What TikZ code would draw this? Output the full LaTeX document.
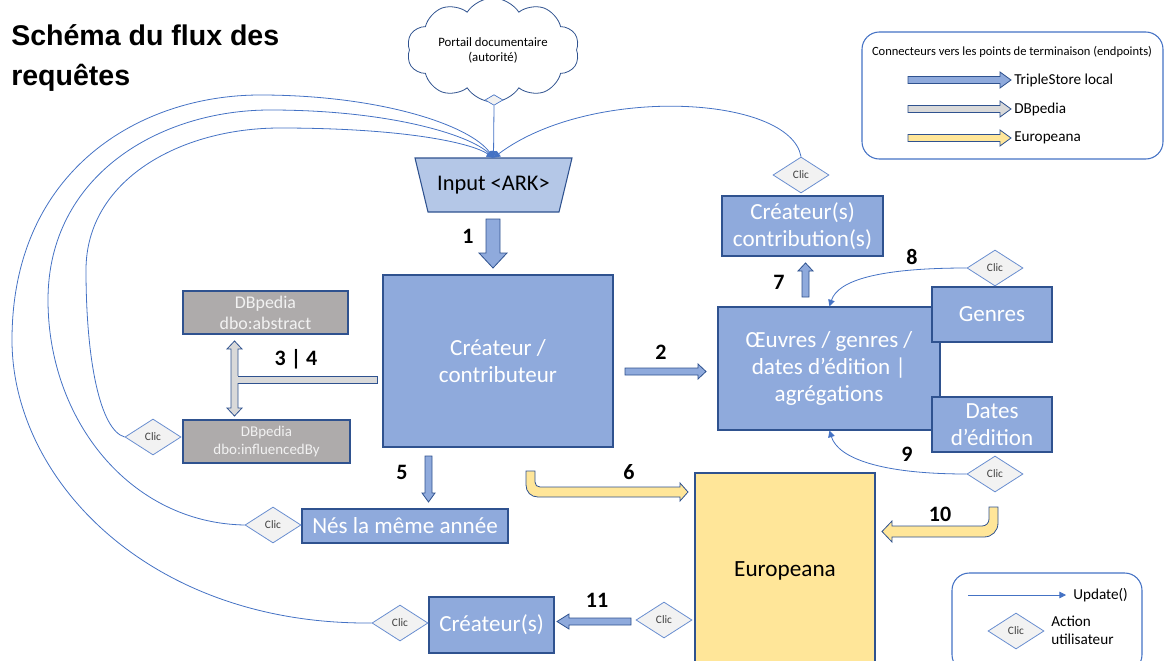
\documentclass[tikz,border=0pt]{standalone}
\usepackage{fontspec}
\setmainfont{Carlito}
\newfontfamily\titlefont{Liberation Sans}
\usetikzlibrary{shapes.geometric,shapes.symbols,arrows.meta,fit,calc}
\definecolor{boxblue}{HTML}{8FAADC}
\definecolor{bord}{HTML}{2F528F}
\definecolor{inblue}{HTML}{B4C7E7}
\definecolor{gbox}{HTML}{AEABAB}
\definecolor{lgray}{HTML}{D9D9D9}
\definecolor{yel}{HTML}{FFE699}
\definecolor{linec}{HTML}{4472C4}
\definecolor{dfill}{HTML}{F2F2F2}
\newcommand\fs[2]{\fontsize{#1}{#2}\selectfont}
\begin{document}
\begin{tikzpicture}[x=0.75pt,y=-0.75pt,
 sz/.style n args={2}{minimum width=#1*0.75pt, minimum height=#2*0.75pt},
 box/.style={draw=bord, line width=0.8pt, inner sep=0pt, align=center},
 bluebox/.style={box, fill=boxblue, text=white, font=\fs{17.3}{20.25}},
 graybox/.style={box, fill=gbox, text=dfill},
 clic/.style={diamond, draw=linec!80, fill=dfill, line width=0.6pt, minimum width=42pt, minimum height=27pt, inner sep=0pt, font=\fs{8.5}{9}, text=black!75},
 upd/.style={draw=linec, line width=0.6pt, -{Triangle[length=5pt,width=5pt]}},
 num/.style={font=\bfseries\fs{16.5}{18}, text=black},
 barrow/.style={draw=bord, line width=0.6pt},
 legbox/.style={draw=linec, line width=0.8pt, rounded corners=13pt, inner sep=0pt},
 legtext/.style={anchor=west, font=\fs{11.4}{13.5}, inner sep=0, align=left},
]
\useasboundingbox (0,0) rectangle (1166,660);

% title
\node[anchor=base west, font=\titlefont\bfseries\fs{21.4}{30}, align=left, inner sep=0] (title) at (11,85) {Schéma du flux des\\requêtes};

% portal cloud
\node[cloud, cloud puffs=10, cloud puff arc=115, aspect=2.1, draw=bord, line width=0.6pt, fill=white, minimum width=121pt, minimum height=64pt, align=center, font=\fs{9.6}{11.25}] (portal) at (493,50) {Portail documentaire\\(autorité)};
\node[diamond, draw=linec, fill=dfill, line width=0.5pt, minimum width=13.5pt, minimum height=8pt, inner sep=0] (pd) at (494,100) {};

% input trapezoid
\draw[draw=bord, fill=inblue, line width=0.8pt] (415,158) -- (572,158) -- (559,212) -- (428,212) -- cycle;
\node[sz={157}{54}, inner sep=0, font=\fs{16.8}{20}] (input) at (493.5,185) {Input <ARK>};

% main boxes
\node[bluebox, sz={230}{172}] (crea) at (498,361) {Créateur /\\contributeur};
\node[bluebox, sz={222}{123}] (oeuv) at (829,368.5) {Œuvres / genres /\\dates d’édition |\\agrégations};
\node[bluebox, sz={120}{55}] (genres) at (992,314.5) {Genres};
\node[bluebox, sz={120}{55}] (dates) at (992,424.5) {Dates\\d’édition};
\node[bluebox, sz={161}{60}] (contrib) at (802.5,226) {Créateur(s)\\contribution(s)};
\node[bluebox, sz={206}{34}] (nes) at (405,526) {Nés la même année};
\node[bluebox, sz={125}{56}] (creas) at (491.5,625) {Créateur(s)};
\node[box, fill=yel, text=black, font=\fs{17.4}{20}, sz={180}{195}] (europ) at (785,570.5) {Europeana};
\node[graybox, font=\fs{13.4}{15.75}, sz={165}{43}] (abstract) at (265.5,312.5) {DBpedia\\dbo:abstract};
\node[graybox, font=\fs{11.2}{13.5}, sz={167}{43}] (infl) at (266.5,441.5) {DBpedia\\dbo:influencedBy};

% clic diamonds
\node[clic] (clic1) at (801,175) {Clic};
\node[clic] (clic8) at (995,268) {Clic};
\node[clic] (clic9) at (995,474) {Clic};
\node[clic] (clicInf) at (153,437) {Clic};
\node[clic] (clicNes) at (273,525) {Clic};
\node[clic] (clicCrea) at (400,623) {Clic};
\node[clic] (clicEur) at (664,620) {Clic};

% block arrows (blue)
\draw[barrow, fill=boxblue] (486,219) -- (500,219) -- (500,253) -- (507,253) -- (493,268) -- (479,253) -- (486,253) -- cycle;
\draw[barrow, fill=boxblue] (625,368) -- (698,368) -- (698,364) -- (706,371.5) -- (698,379) -- (698,375) -- (625,375) -- cycle;
\draw[barrow, fill=boxblue] (425,456) -- (432,456) -- (432,493) -- (435,493) -- (428.5,502) -- (422,493) -- (425,493) -- cycle;
\draw[barrow, fill=boxblue] (802,297) -- (809,297) -- (809,271) -- (813,271) -- (805.5,263) -- (798,271) -- (802,271) -- cycle;
\draw[barrow, fill=boxblue] (631,618) -- (631,625) -- (569,625) -- (569,629) -- (557,621.5) -- (569,614) -- (569,618) -- cycle;

% 3 | 4 connector (gray)
\draw[barrow, fill=lgray] (234.5,341) -- (242,349) -- (238,349) -- (238,408) -- (242,408) -- (234.5,416) -- (227,408) -- (231,408) -- (231,349) -- (227,349) -- cycle;
\fill[lgray] (237,376) rectangle (377,383);
\draw[barrow] (238,376) -- (377,376) -- (377,383) -- (238,383);

% yellow arrows
\draw[barrow, fill=yel] (526,471) -- (535,471) -- (535,482) .. controls (535,485) and (537,487) .. (540,487) -- (680,487) -- (680,483) -- (688,492) -- (680,501) -- (680,497) -- (538,497) .. controls (531,497) and (526,492) .. (526,485) -- cycle;
\draw[barrow, fill=yel] (998,507) -- (998,523) .. controls (998,531) and (992,537) .. (984,537) -- (892,537) -- (892,542) -- (882,531.5) -- (892,521) -- (892,526) -- (982,526) .. controls (986,526) and (989,523) .. (989,519) -- (989,507) -- cycle;

% update connectors
\draw[upd] (pd.south) -- (input.north);
\draw[upd] (clicCrea.west) .. controls (150,625) and (12,480) .. (12,340) .. controls (12,170) and (140,95) .. (260,95) .. controls (380,95) and (470,125) .. (input.north);
\draw[upd] (clicNes.west) .. controls (130,523) and (48,420) .. (48,300) .. controls (48,175) and (160,110) .. (270,110) .. controls (390,110) and (470,135) .. (input.north);
\draw[upd] (clicInf.west) .. controls (100,430) and (86,360) .. (86,270) .. controls (86,180) and (180,128) .. (280,128) .. controls (400,128) and (470,142) .. (input.north);
\draw[upd] (clic1.north) .. controls (790,95) and (590,85) .. (input.north);
\draw[upd] (clic8.west) .. controls (880,268) and (838,280) .. ($(oeuv.north west)+(112,0)$);
\draw[upd] (clic9.west) .. controls (880,474) and (838,458) .. ($(oeuv.south west)+(112,0)$);

% number labels
\node[num] at (468,236) {1};
\node[num] at (661,352) {2};
\node[num] at (296,359) {3 | 4};
\node[num] at (402,472) {5};
\node[num] at (629,472) {6};
\node[num] at (779,282) {7};
\node[num] at (912,257) {8};
\node[num] at (907,454) {9};
\node[num] at (940,514) {10};
\node[num] at (597,600) {11};

% legend 1
\node[legbox, sz={301}{127}] (leg1) at (1012.5,95.5) {};
\node[font=\fs{9.4}{10}] at (1012,52) {Connecteurs vers les points de terminaison (endpoints)};
\draw[barrow, fill=boxblue] (908,76.5) -- (1000,76.5) -- (1000,72) -- (1011,80) -- (1000,88) -- (1000,83.5) -- (908,83.5) -- cycle;
\draw[barrow, fill=lgray] (908,105.5) -- (1000,105.5) -- (1000,101) -- (1011,109) -- (1000,117) -- (1000,112.5) -- (908,112.5) -- cycle;
\draw[barrow, fill=yel] (908,134.5) -- (1000,134.5) -- (1000,130) -- (1011,138) -- (1000,146) -- (1000,141.5) -- (908,141.5) -- cycle;
\node[legtext] at (1014,80) {TripleStore local};
\node[legtext] at (1014,109) {DBpedia};
\node[legtext] at (1014,138) {Europeana};

% legend 2
\node[legbox, sz={190}{99}] (leg2) at (1047,622.5) {};
\coordinate (u1) at (968,595);
\coordinate (u2) at (1066,595);
\draw[upd] (u1) -- (u2);
\node[legtext] at (1073,595) {Update()};
\node[clic] (clicLeg) at (1016,631) {Clic};
\node[legtext] at (1051,630) {Action\\utilisateur};
\end{tikzpicture}
\end{document}
